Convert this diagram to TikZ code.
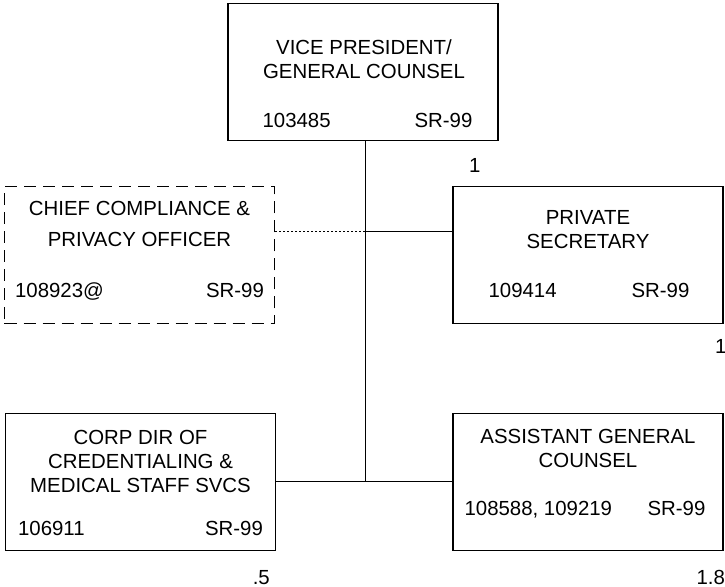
\documentclass[tikz,border=0pt]{standalone}
\usepackage{fontspec}
\setmainfont{Liberation Sans}
\usetikzlibrary{positioning, calc}

\begin{document}
\begin{tikzpicture}[
    x=0.5pt, y=-0.5pt,
    posbox/.style={rectangle, draw, line width=0.8pt, minimum width=135pt, minimum height=68.5pt, inner sep=0pt},
    vacant/.style={posbox, dash pattern=on 6pt off 3.5pt},
    title/.style={anchor=north, align=center, inner sep=0pt, font=\fontsize{10.2}{12}\selectfont},
    code/.style={anchor=base west, inner sep=0pt, font=\fontsize{10.2}{12}\selectfont},
    grade/.style={anchor=base east, inner sep=0pt, font=\fontsize{10.2}{12}\selectfont},
    fte/.style={inner sep=0pt, font=\fontsize{10.2}{12}\selectfont},
    line/.style={line width=0.5pt}
]
    \useasboundingbox (0,0) rectangle (725,587);

    % Vice President
    \node [posbox] (vp) at (363, 72) {};
    \node [title] at ($(vp.north)+(1,37)$) {VICE PRESIDENT/\\GENERAL COUNSEL};
    \node [code] at ($(vp.north west)+(35,125)$) {103485};
    \node [grade] at ($(vp.north east)+(-26,125)$) {SR-99};
    \node [fte] at ($(vp.south east)+(-24,24)$) {1};

    % Chief Compliance (dashed)
    \node [vacant] (cco) at (139.5, 255) {};
    \node [title, font=\fontsize{10.2}{15.5}\selectfont] at ($(cco.north)+(0,15)$) {CHIEF COMPLIANCE \&\\PRIVACY OFFICER};
    \node [code] at ($(cco.north west)+(11,112)$) {108923@};
    \node [grade] at ($(cco.north east)+(-11,112)$) {SR-99};

    % Private Secretary
    \node [posbox] (ps) at (588, 255) {};
    \node [title] at ($(ps.north)+(0,24)$) {PRIVATE\\SECRETARY};
    \node [code] at ($(ps.north west)+(36,112)$) {109414};
    \node [grade] at ($(ps.north east)+(-34,112)$) {SR-99};
    \node [fte] at ($(ps.south east)+(-3,22)$) {1};

    % Credentialing
    \node [posbox] (cred) at (140.5, 482) {};
    \node [title] at ($(cred.north)+(0,17)$) {CORP DIR OF\\CREDENTIALING \&\\MEDICAL STAFF SVCS};
    \node [code] at ($(cred.north west)+(13,123)$) {106911};
    \node [grade] at ($(cred.north east)+(-13,123)$) {SR-99};
    \node [fte] at ($(cred.south east)+(-15,26)$) {.5};

    % Assistant General Counsel
    \node [posbox] (agc) at (588, 482) {};
    \node [title] at ($(agc.north)+(0,16)$) {ASSISTANT GENERAL\\COUNSEL};
    \node [code] at ($(agc.north west)+(12,103)$) {108588, 109219};
    \node [grade] at ($(agc.north east)+(-18,103)$) {SR-99};
    \node [fte] at ($(agc.south east)+(-13,26)$) {1.8};

    % Connectors
    \coordinate (tee) at ($(vp.south)+(2,90)$);
    \coordinate (foot) at (tee |- cred.east);
    \draw [line] (tee |- vp.south) -- (foot);
    \draw [line] (tee) -- (tee -| ps.west);
    \draw [line, dash pattern=on 1pt off 1pt] (tee) -- (tee -| cco.east);
    \draw [line] (cred.east) -- (agc.west);

\end{tikzpicture}
\end{document}
